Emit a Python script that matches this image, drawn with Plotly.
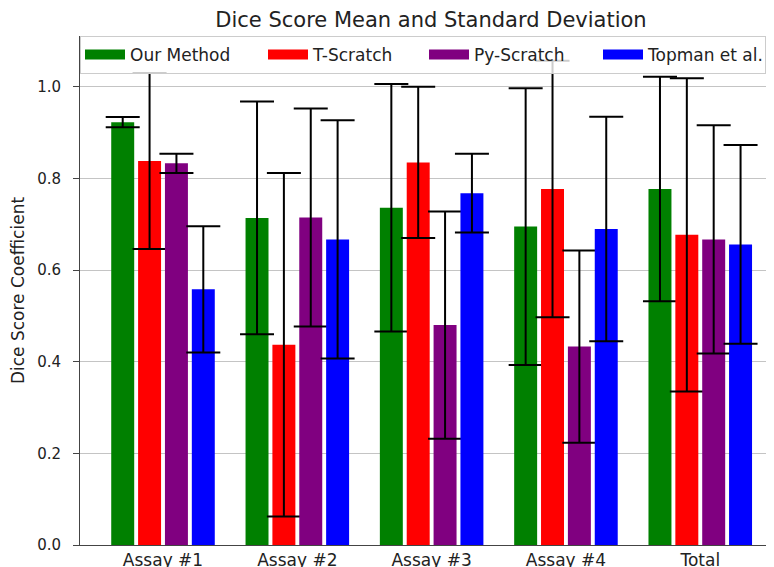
import plotly.graph_objects as go

categories = ["Assay #1", "Assay #2", "Assay #3", "Assay #4", "Total"]

our_mean = [0.923, 0.714, 0.736, 0.695, 0.777]
our_std = [0.011, 0.254, 0.270, 0.302, 0.245]
tscratch_mean = [0.838, 0.437, 0.835, 0.777, 0.677]
tscratch_std = [0.192, 0.375, 0.165, 0.280, 0.342]
pyscratch_mean = [0.833, 0.715, 0.480, 0.433, 0.667]
pyscratch_std = [0.021, 0.238, 0.248, 0.210, 0.249]
topman_mean = [0.558, 0.667, 0.768, 0.690, 0.656]
topman_std = [0.138, 0.260, 0.086, 0.245, 0.217]

series = [
    ("Our Method", our_mean, our_std, "#008000", 128),
    ("T-Scratch", tscratch_mean, tscratch_std, "#ff0000", 106),
    ("Py-Scratch", pyscratch_mean, pyscratch_std, "#800080", 119),
    ("Topman et al.", topman_mean, topman_std, "#0000ff", 112),
]

fig = go.Figure()
for name, m, s, c, lw in series:
    fig.add_trace(go.Bar(
        x=categories, y=m, name=name, marker=dict(color=c, line=dict(width=0)),
        error_y=dict(type="data", array=s, visible=True, color="black",
                     thickness=2, width=17),
        showlegend=False, legendgroup=name,
    ))
for name, m, s, c, lw in series:
    fig.add_trace(go.Scatter(
        x=[None], y=[None], mode="lines", name=name, legendgroup=name,
        line=dict(color=c, width=12), legendwidth=lw,
    ))

# the page adds an 8px body margin, so the figure is sized 8px smaller
fig.update_layout(
    width=766, height=559,
    margin=dict(l=72, r=0, t=28, b=22),
    paper_bgcolor="white", plot_bgcolor="white",
    barmode="group", bargap=0.2, bargroupgap=0.145,
    font=dict(family="DejaVu Sans", size=14, color="#222"),
    title=dict(text="Dice Score Mean and Standard Deviation",
               x=423 / 766, xref="container", xanchor="center",
               y=1 - 12 / 559, yref="container", yanchor="middle",
               font=dict(size=21, color="#222")),
    legend=dict(orientation="h", x=0, xanchor="left", y=1.0, yanchor="top",
                bgcolor="rgba(255,255,255,0.8)", bordercolor="#cccccc",
                borderwidth=1, font=dict(size=17, color="#222"),
                itemwidth=40, tracegroupgap=0),
    xaxis=dict(range=[-0.618, 4.549], showline=True, linecolor="#444",
               linewidth=1, ticks="", showgrid=False, automargin=False,
               tickfont=dict(size=17)),
    yaxis=dict(range=[0, 1.111], tickvals=[0, 0.2, 0.4, 0.6, 0.8, 1.0],
               tickformat=".1f", showline=True, linecolor="#444", linewidth=1,
               ticks="outside", ticklen=6, tickcolor="#444",
               ticklabelstandoff=9, automargin=False,
               showgrid=True, gridcolor="#c4c4c4", gridwidth=1,
               zeroline=False, tickfont=dict(size=15),
               title=dict(text="Dice Score Coefficient", font=dict(size=17),
                          standoff=12)),
)

fig.write_html("out.html")
